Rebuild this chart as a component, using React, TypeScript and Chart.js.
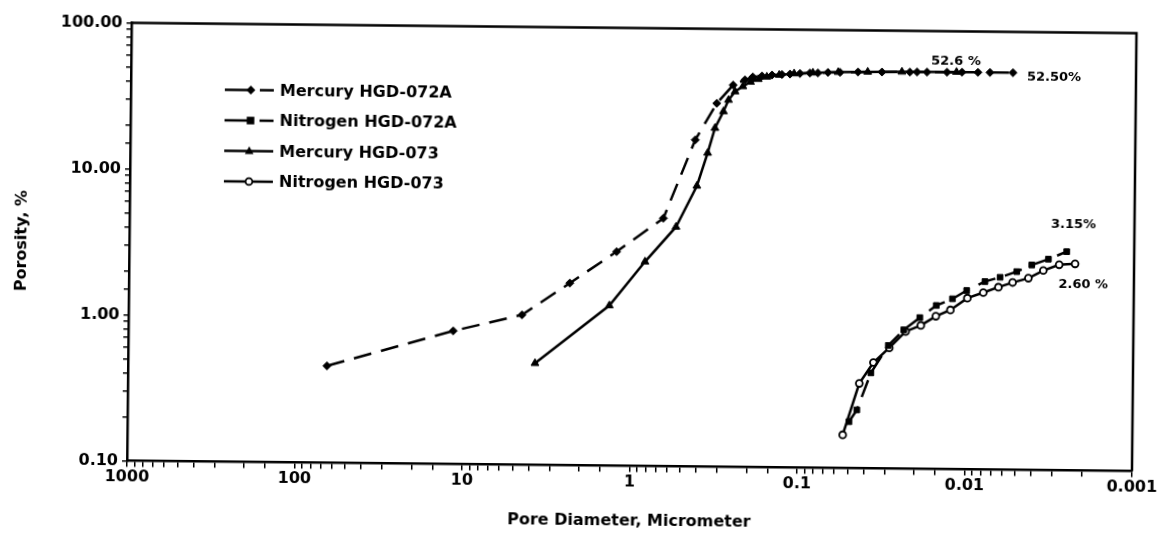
import React, { useEffect, useRef } from 'react';
import { Chart, registerables } from 'chart.js';

Chart.register(...registerables);

// ---------- data (pore diameter in micrometer, porosity in %) ----------
const hg072aDiameter = [64.9, 11.5, 4.48, 2.33, 1.23, 0.65, 0.424, 0.317, 0.254, 0.216, 0.194, 0.171, 0.149, 0.13, 0.1164, 0.1015, 0.0885, 0.0793, 0.0691, 0.0585, 0.0457, 0.0329, 0.0224, 0.0203, 0.0177, 0.01345, 0.01094, 0.00879, 0.00745, 0.00543];
const hg072aPorosity = [0.461, 0.817, 1.064, 1.77, 2.93, 5.0, 17.3, 30.9, 41.3, 44.9, 47.1, 47.9, 48.7, 49.2, 49.6, 50.1, 50.6, 50.7, 51.2, 51.4, 51.8, 52.0, 52.2, 52.3, 52.3, 52.4, 52.5, 52.5, 52.5, 52.5];

const n072aDiameter = [0.0493, 0.0443, 0.0367, 0.029, 0.0235, 0.01888, 0.01507, 0.01208, 0.00995, 0.00775, 0.0063, 0.00501, 0.00408, 0.00325, 0.00253];
const n072aPorosity = [0.208, 0.251, 0.451, 0.697, 0.894, 1.087, 1.32, 1.47, 1.68, 1.94, 2.08, 2.28, 2.54, 2.79, 3.15];

const hg073Diameter = [3.72, 1.35, 0.832, 0.546, 0.412, 0.357, 0.324, 0.289, 0.27, 0.247, 0.222, 0.2, 0.18, 0.16, 0.135, 0.11, 0.085, 0.06, 0.04, 0.025, 0.0118];
const hg073Porosity = [0.497, 1.25, 2.51, 4.37, 8.37, 14.1, 20.9, 27.2, 32.6, 37.3, 40.5, 43.5, 45.5, 47.3, 48.8, 50.0, 50.8, 51.5, 52.0, 52.3, 52.6];

const n073Diameter = [0.0536, 0.043, 0.0355, 0.0286, 0.0229, 0.0186, 0.01515, 0.01241, 0.00985, 0.00792, 0.00644, 0.0053, 0.00427, 0.00348, 0.0028, 0.00225];
const n073Porosity = [0.169, 0.381, 0.531, 0.671, 0.871, 0.962, 1.114, 1.233, 1.49, 1.63, 1.78, 1.92, 2.06, 2.33, 2.56, 2.6];

const seriesNames = ['Mercury HGD-072A', 'Nitrogen HGD-072A', 'Mercury HGD-073', 'Nitrogen HGD-073'];

const xTickValues = [1000, 100, 10, 1, 0.1, 0.01, 0.001];
const xTickLabels = ['1000', '100', '10', '1', '0.1', '0.01', '0.001'];
const yTickValues = [100, 10, 1, 0.1];
const yTickLabels = ['100.00', '10.00', '1.00', '0.10'];

const annotationTexts = ['52.6 %', '52.50%', '3.15%', '2.60 %'];
const annotationDiameters = [0.0119, 0.00448, 0.00231, 0.00201];
const annotationPorosities = [61.7, 49.2, 4.81, 1.86];
const annotationAlign = ['center', 'left', 'center', 'center'];

// the scanned original is tilted slightly clockwise
const SCAN_TILT_DEG = 0.59;

const FONT = '"DejaVu Sans", "Liberation Sans", sans-serif';

function labelFor(v: number, values: number[], labels: string[]): string {
  const i = values.findIndex((t) => Math.abs(Math.log10(t) - Math.log10(v)) < 1e-6);
  return i >= 0 ? labels[i] : '';
}

function toPoints(xs: number[], ys: number[]) {
  return xs.map((x, i) => ({ x, y: ys[i] }));
}

function drawMarker(ctx: CanvasRenderingContext2D, style: string, x: number, y: number) {
  ctx.save();
  ctx.fillStyle = '#000';
  ctx.strokeStyle = '#000';
  ctx.setLineDash([]);
  ctx.beginPath();
  if (style === 'rectRot') {
    const r = 4.5;
    ctx.moveTo(x, y - r);
    ctx.lineTo(x + r, y);
    ctx.lineTo(x, y + r);
    ctx.lineTo(x - r, y);
    ctx.closePath();
    ctx.fill();
  } else if (style === 'rect') {
    const r = 3.8;
    ctx.rect(x - r, y - r, 2 * r, 2 * r);
    ctx.fill();
  } else if (style === 'triangle') {
    const r = 4.8;
    ctx.moveTo(x, y - r);
    ctx.lineTo(x + r * 0.9, y + r * 0.6);
    ctx.lineTo(x - r * 0.9, y + r * 0.6);
    ctx.closePath();
    ctx.fill();
  } else {
    ctx.fillStyle = '#fff';
    ctx.lineWidth = 1.8;
    ctx.arc(x, y, 3.4, 0, Math.PI * 2);
    ctx.fill();
    ctx.stroke();
  }
  ctx.restore();
}

const decorPlugin = {
  id: 'decor',
  afterDraw(chart: any) {
    const { ctx, chartArea } = chart;
    const xs = chart.scales.x;
    const ys = chart.scales.y;
    ctx.save();
    // frame top and right
    ctx.strokeStyle = '#000';
    ctx.lineWidth = 2.5;
    ctx.setLineDash([]);
    ctx.beginPath();
    ctx.moveTo(chartArea.left, chartArea.top);
    ctx.lineTo(chartArea.right, chartArea.top);
    ctx.lineTo(chartArea.right, chartArea.bottom);
    ctx.stroke();

    // legend
    const lx0 = chartArea.left + 94;
    const lx1 = chartArea.left + 143;
    chart.data.datasets.forEach((ds: any, i: number) => {
      const y = chartArea.top + 66 + i * 30.5;
      ctx.strokeStyle = '#000';
      ctx.lineWidth = 2.5;
      ctx.beginPath();
      if (ds.borderDash && ds.borderDash.length) {
        ctx.moveTo(lx0, y);
        ctx.lineTo(lx0 + 24, y);
        ctx.moveTo(lx0 + 35, y);
        ctx.lineTo(lx1, y);
        ctx.stroke();
        drawMarker(ctx, ds.pointStyle, lx0 + 26, y);
      } else {
        ctx.moveTo(lx0, y);
        ctx.lineTo(lx1, y);
        ctx.stroke();
        drawMarker(ctx, ds.pointStyle, lx0 + 25, y);
      }
      ctx.fillStyle = '#000';
      ctx.font = 'bold 16px ' + FONT;
      ctx.textAlign = 'left';
      ctx.textBaseline = 'middle';
      ctx.fillText(ds.label, lx1 + 6, y + 1);
    });

    // annotations
    ctx.font = 'bold 13px ' + FONT;
    ctx.textBaseline = 'middle';
    ctx.fillStyle = '#000';
    annotationTexts.forEach((t, i) => {
      ctx.textAlign = annotationAlign[i] as CanvasTextAlign;
      ctx.fillText(t, xs.getPixelForValue(annotationDiameters[i]), ys.getPixelForValue(annotationPorosities[i]));
    });
    ctx.restore();
  },
};

export default function App() {
  const ref = useRef<HTMLCanvasElement | null>(null);

  useEffect(() => {
    if (!ref.current) return;
    const common = {
      borderColor: '#000',
      borderWidth: 2.5,
      showLine: true,
      fill: false,
      tension: 0,
      pointBorderColor: '#000',
    };
    const chart = new Chart(ref.current, {
      type: 'scatter',
      data: {
        datasets: [
          {
            ...common,
            label: seriesNames[0],
            data: toPoints(hg072aDiameter, hg072aPorosity),
            borderDash: [18, 10],
            pointStyle: 'rectRot',
            pointRadius: 4,
            pointBackgroundColor: '#000',
            pointBorderWidth: 1,
          },
          {
            ...common,
            label: seriesNames[1],
            data: toPoints(n072aDiameter, n072aPorosity),
            borderDash: [18, 10],
            pointStyle: 'rect',
            pointRadius: 4,
            pointBackgroundColor: '#000',
            pointBorderWidth: 1,
          },
          {
            ...common,
            label: seriesNames[2],
            data: toPoints(hg073Diameter, hg073Porosity),
            borderDash: [],
            pointStyle: 'triangle',
            pointRadius: 4.5,
            pointBackgroundColor: '#000',
            pointBorderWidth: 1,
          },
          {
            ...common,
            label: seriesNames[3],
            data: toPoints(n073Diameter, n073Porosity),
            borderDash: [],
            pointStyle: 'circle',
            pointRadius: 3.4,
            pointBackgroundColor: '#fff',
            pointBorderWidth: 1.8,
          },
        ],
      },
      options: {
        animation: false,
        responsive: false,
        maintainAspectRatio: false,
        layout: { padding: { top: 27.5, right: 32, left: 0, bottom: 0 } },
        plugins: {
          legend: { display: false },
          tooltip: { enabled: false },
        },
        scales: {
          x: {
            type: 'logarithmic',
            reverse: true,
            min: 0.001,
            max: 1000,
            position: 'bottom',
            afterFit: (s: any) => {
              s.height = 77.6;
            },
            grid: {
              display: true,
              drawOnChartArea: false,
              drawTicks: true,
              tickLength: 6,
              color: '#000',
              lineWidth: 1.5,
            },
            border: { display: true, color: '#000', width: 2.5 },
            ticks: {
              autoSkip: false,
              maxRotation: 0,
              minRotation: 0,
              padding: 1,
              color: '#000',
              font: { family: FONT, size: 16, weight: 'bold' },
              callback: (v: any) => labelFor(Number(v), xTickValues, xTickLabels),
            },
            title: {
              display: true,
              text: 'Pore Diameter, Micrometer',
              color: '#000',
              font: { family: FONT, size: 16, weight: 'bold' },
              padding: { top: 4, bottom: 13 },
            },
          },
          y: {
            type: 'logarithmic',
            min: 0.1,
            max: 100,
            afterFit: (s: any) => {
              s.width = 129;
            },
            grid: {
              display: true,
              drawOnChartArea: false,
              drawTicks: true,
              tickLength: 5,
              color: '#000',
              lineWidth: 1.5,
            },
            border: { display: true, color: '#000', width: 2.5 },
            ticks: {
              autoSkip: false,
              padding: 4,
              color: '#000',
              font: { family: FONT, size: 16, weight: 'bold' },
              callback: (v: any) => labelFor(Number(v), yTickValues, yTickLabels),
            },
            title: {
              display: true,
              text: 'Porosity, %',
              color: '#000',
              font: { family: FONT, size: 16, weight: 'bold' },
              padding: { top: 12, bottom: 4 },
            },
          },
        },
      } as any,
      plugins: [decorPlugin],
    });
    return () => chart.destroy();
  }, []);

  return (
    <div style={{ position: 'fixed', left: 0, top: 0, width: 1166, height: 543, background: '#fff', overflow: 'hidden' }}>
      <canvas
        ref={ref}
        width={1166}
        height={543}
        style={{ display: 'block', transform: `rotate(${SCAN_TILT_DEG}deg)`, transformOrigin: '50% 50%' }}
      />
    </div>
  );
}
